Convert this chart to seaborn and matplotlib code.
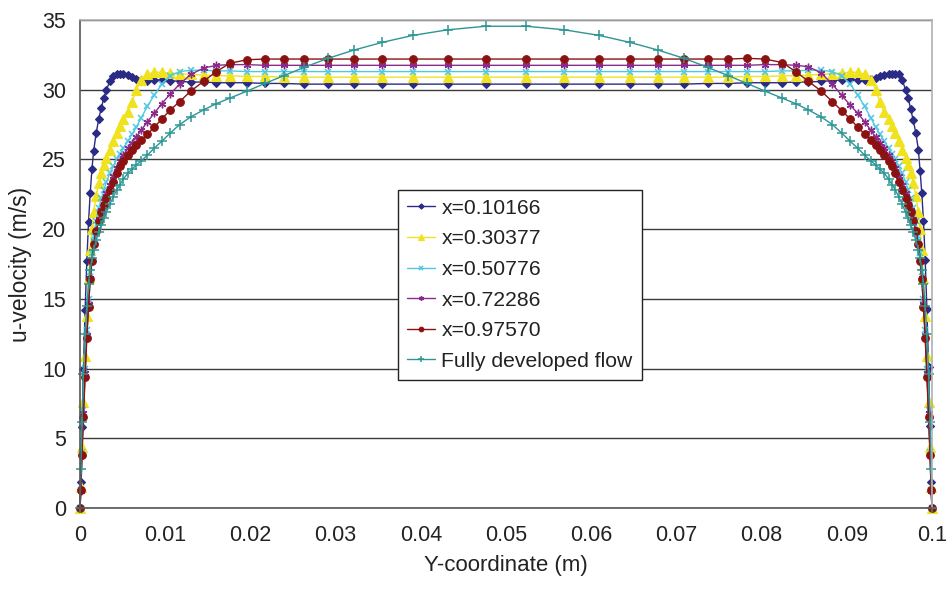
import matplotlib
matplotlib.use("Agg")
import matplotlib.pyplot as plt
import pandas as pd
import seaborn as sns

# ---------------- data ----------------
y_left = [0, 0.0001, 0.00023, 0.0004, 0.0006, 0.0008, 0.001, 0.0012, 0.0014, 0.0016,
          0.0019, 0.0022, 0.0025, 0.0028, 0.0031, 0.0035, 0.0039, 0.0043, 0.0047, 0.0051,
          0.0056, 0.0061, 0.0066, 0.0072, 0.0079, 0.0087, 0.0096, 0.0106, 0.0117, 0.0130,
          0.0145, 0.0160, 0.0176, 0.0196, 0.0217, 0.0239, 0.0263, 0.0291, 0.0322, 0.0355,
          0.0391, 0.0432, 0.0476]
y_right = [0.0524, 0.0568, 0.0609, 0.0645, 0.0678, 0.0709, 0.0737, 0.0761, 0.0783, 0.0804,
           0.0824, 0.0840, 0.0855, 0.0870, 0.0883, 0.0894, 0.0904, 0.0913, 0.0921, 0.0928,
           0.0934, 0.0939, 0.0944, 0.0949, 0.0953, 0.0957, 0.0961, 0.0965, 0.0969, 0.0972,
           0.0975, 0.0978, 0.0981, 0.0984, 0.0986, 0.0988, 0.0990, 0.0992, 0.0994, 0.0996,
           0.09977, 0.0999, 0.1]
y_coord = y_left + y_right

u_010166 = [0, 1.9, 5.8, 10.0, 14.2, 17.7, 20.5, 22.6, 24.3, 25.6,
            26.9, 27.9, 28.7, 29.4, 30.0, 30.6, 31.0, 31.15, 31.15, 31.1,
            31.05, 30.9, 30.8, 30.7, 30.65, 30.7, 30.7, 30.65, 30.6, 30.55,
            30.55, 30.5, 30.5, 30.5, 30.45, 30.45, 30.4, 30.4, 30.4, 30.4,
            30.4, 30.4, 30.4,
            30.4, 30.4, 30.4, 30.4, 30.4, 30.4, 30.45, 30.45, 30.5, 30.5,
            30.5, 30.55, 30.55, 30.6, 30.65, 30.7, 30.75, 30.7, 30.7, 30.8,
            30.85, 30.95, 31.05, 31.1, 31.15, 31.15, 31.1, 30.7, 30.0, 29.4,
            28.6, 27.8, 26.9, 25.7, 24.2, 22.6, 20.6, 17.8, 14.3, 10.1,
            5.9, 1.9, 0]
u_030377 = [0, 1.5, 4.4, 7.6, 10.9, 13.8, 16.5, 18.5, 20.0, 21.2,
            22.4, 23.3, 24.0, 24.6, 25.1, 25.7, 26.3, 26.9, 27.4, 27.9,
            28.4, 29.1, 30.0, 30.7, 31.1, 31.25, 31.25, 31.2, 31.15, 31.1,
            31.05, 31.0, 31.0, 30.95, 30.95, 30.9, 30.9, 30.9, 30.9, 30.9,
            30.9, 30.9, 30.9,
            30.9, 30.9, 30.9, 30.9, 30.9, 30.9, 30.9, 30.9, 30.95, 30.95,
            31.0, 31.0, 31.05, 31.1, 31.15, 31.2, 31.25, 31.25, 31.1, 30.7,
            30.0, 29.1, 28.4, 27.9, 27.4, 26.9, 26.3, 25.7, 25.1, 24.6,
            24.0, 23.3, 22.4, 21.2, 20.0, 18.5, 16.5, 13.8, 10.9, 7.6,
            4.4, 1.5, 0]
u_050776 = [0, 1.3, 4.0, 7.0, 10.0, 12.8, 15.0, 16.9, 18.3, 19.5,
            20.6, 21.5, 22.2, 22.8, 23.4, 24.0, 24.5, 25.0, 25.4, 25.8,
            26.3, 26.8, 27.3, 28.0, 28.8, 29.6, 30.4, 31.0, 31.3, 31.4,
            31.4, 31.35, 31.35, 31.3, 31.3, 31.3, 31.3, 31.3, 31.3, 31.3,
            31.3, 31.3, 31.3,
            31.3, 31.3, 31.3, 31.3, 31.3, 31.3, 31.3, 31.3, 31.3, 31.3,
            31.35, 31.35, 31.4, 31.4, 31.3, 31.0, 30.4, 29.6, 28.8, 28.0,
            27.3, 26.8, 26.3, 25.8, 25.4, 25.0, 24.5, 24.0, 23.4, 22.8,
            22.2, 21.5, 20.6, 19.5, 18.3, 16.9, 15.0, 12.8, 10.0, 7.0,
            4.0, 1.3, 0]
u_072286 = [0, 1.2, 3.8, 6.8, 9.7, 12.4, 14.6, 16.5, 17.8, 18.9,
            19.9, 20.7, 21.4, 22.0, 22.6, 23.2, 23.8, 24.4, 24.9, 25.3,
            25.8, 26.2, 26.6, 27.1, 27.7, 28.3, 29.0, 29.7, 30.4, 31.1,
            31.55, 31.75, 31.8, 31.8, 31.75, 31.75, 31.75, 31.75, 31.75, 31.75,
            31.75, 31.75, 31.75,
            31.75, 31.75, 31.75, 31.75, 31.75, 31.75, 31.75, 31.75, 31.75, 31.8,
            31.8, 31.75, 31.65, 31.2, 30.4, 29.6, 28.9, 28.3, 27.7, 27.1,
            26.6, 26.2, 25.8, 25.3, 24.9, 24.4, 23.8, 23.2, 22.6, 22.0,
            21.4, 20.7, 19.9, 18.9, 17.8, 16.5, 14.6, 12.4, 9.7, 6.8,
            3.8, 1.2, 0]
u_097570 = [0, 1.3, 3.8, 6.5, 9.4, 12.2, 14.4, 16.4, 17.7, 18.9,
            19.9, 20.6, 21.2, 21.7, 22.2, 22.8, 23.4, 24.0, 24.5, 24.9,
            25.3, 25.7, 26.0, 26.4, 26.8, 27.3, 27.9, 28.55, 29.15, 29.9,
            30.6, 31.3, 31.9, 32.15, 32.2, 32.2, 32.2, 32.2, 32.2, 32.2,
            32.2, 32.2, 32.2,
            32.2, 32.2, 32.2, 32.2, 32.2, 32.2, 32.2, 32.2, 32.25, 32.2,
            31.95, 31.3, 30.6, 29.9, 29.15, 28.5, 27.9, 27.3, 26.8, 26.4,
            26.0, 25.7, 25.3, 24.9, 24.5, 24.0, 23.4, 22.8, 22.2, 21.7,
            21.2, 20.6, 19.9, 18.9, 17.7, 16.4, 14.4, 12.2, 9.4, 6.5,
            3.8, 1.3, 0]
u_fully_developed = [0, 2.8, 6.2, 9.6, 12.5, 14.5, 16.1, 17.1, 17.9, 18.5,
                     19.2, 19.8, 20.3, 20.8, 21.2, 21.8, 22.3, 22.8, 23.2, 23.6,
                     24.0, 24.3, 24.6, 24.9, 25.3, 25.8, 26.3, 26.9, 27.5, 28.05,
                     28.55, 29.0, 29.4, 29.9, 30.45, 31.0, 31.6, 32.25, 32.85, 33.4,
                     33.9, 34.3, 34.55,
                     34.55, 34.3, 33.9, 33.4, 32.85, 32.25, 31.6, 31.0, 30.45, 29.9,
                     29.4, 29.0, 28.55, 28.05, 27.5, 26.9, 26.3, 25.8, 25.3, 24.9,
                     24.6, 24.3, 24.0, 23.6, 23.2, 22.8, 22.3, 21.8, 21.2, 20.8,
                     20.3, 19.8, 19.2, 18.5, 17.9, 17.1, 16.1, 14.5, 12.5, 9.6,
                     6.2, 2.8, 0]

series_labels = ["x=0.10166", "x=0.30377", "x=0.50776", "x=0.72286", "x=0.97570",
                 "Fully developed flow"]
series_values = [u_010166, u_030377, u_050776, u_072286, u_097570, u_fully_developed]

x_ticks = [0, 0.01, 0.02, 0.03, 0.04, 0.05, 0.06, 0.07, 0.08, 0.09, 0.1]
x_tick_labels = ["0", "0.01", "0.02", "0.03", "0.04", "0.05", "0.06", "0.07",
                 "0.08", "0.09", "0.1"]
y_ticks = [0, 5, 10, 15, 20, 25, 30, 35]

# ---------------- styles ----------------
styles = [
    dict(color="#2b2b85", marker="D", markersize=4.5),
    dict(color="#f0e21e", marker="^", markersize=6.5),
    dict(color="#4ec8e2", marker="x", markersize=4.5, markeredgewidth=1.1),
    dict(color="#8b2a8b", marker=(6, 2, 0), markersize=5.5, markeredgewidth=1.0),
    dict(color="#8c1212", marker="o", markersize=5.5),
    dict(color="#2c9694", marker="+", markersize=6.5, markeredgewidth=1.1),
]

sns.set_theme(style="white")
plt.rcParams["font.family"] = ["Liberation Sans", "DejaVu Sans"]

fig, ax = plt.subplots(figsize=(9.53, 5.91), dpi=100)
fig.subplots_adjust(left=80 / 953, right=932 / 953, top=1 - 20 / 591, bottom=1 - 508 / 591)

for label, values, st in zip(series_labels, series_values, styles):
    df = pd.DataFrame({"Y-coordinate (m)": y_coord, "u-velocity (m/s)": values})
    kw = dict(st)
    kw.setdefault("markeredgewidth", 0.8)
    sns.lineplot(data=df, x="Y-coordinate (m)", y="u-velocity (m/s)", ax=ax,
                 label=label, sort=False, estimator=None, linewidth=1.0,
                 markeredgecolor=st["color"], clip_on=False, **kw)

ax.set_xlim(0, 0.1)
ax.set_ylim(0, 35)
ax.set_xticks(x_ticks)
ax.set_xticklabels(x_tick_labels)
ax.set_yticks(y_ticks)
ax.yaxis.grid(True, color="#3a3a3a", linewidth=1.0)
ax.xaxis.grid(False)
ax.set_axisbelow(True)

ax.tick_params(axis="both", which="major", direction="out", length=6, width=1,
               color="#555555", labelsize=15.5, labelcolor="#222222", pad=6)
ax.tick_params(axis="y", pad=4)
for side in ["left", "bottom"]:
    ax.spines[side].set_color("#555555")
    ax.spines[side].set_linewidth(1.2)
for side in ["top", "right"]:
    ax.spines[side].set_color("#b0b0b0")
    ax.spines[side].set_linewidth(1.2)

ax.set_xlabel("Y-coordinate (m)", fontsize=16, color="#222222", labelpad=7)
ax.set_ylabel("u-velocity (m/s)", fontsize=16.5, color="#222222", labelpad=7)

leg = ax.legend(loc="upper left", bbox_to_anchor=(0.373, 0.652), frameon=True,
                fancybox=False, edgecolor="#222222", framealpha=1, fontsize=15.2,
                handlelength=1.35, handletextpad=0.3, labelspacing=0.55,
                borderpad=0.42, borderaxespad=0, markerscale=0.6)
leg.get_frame().set_linewidth(1.0)
for t in leg.get_texts():
    t.set_color("#222222")

fig.savefig("out.png", dpi=100)
